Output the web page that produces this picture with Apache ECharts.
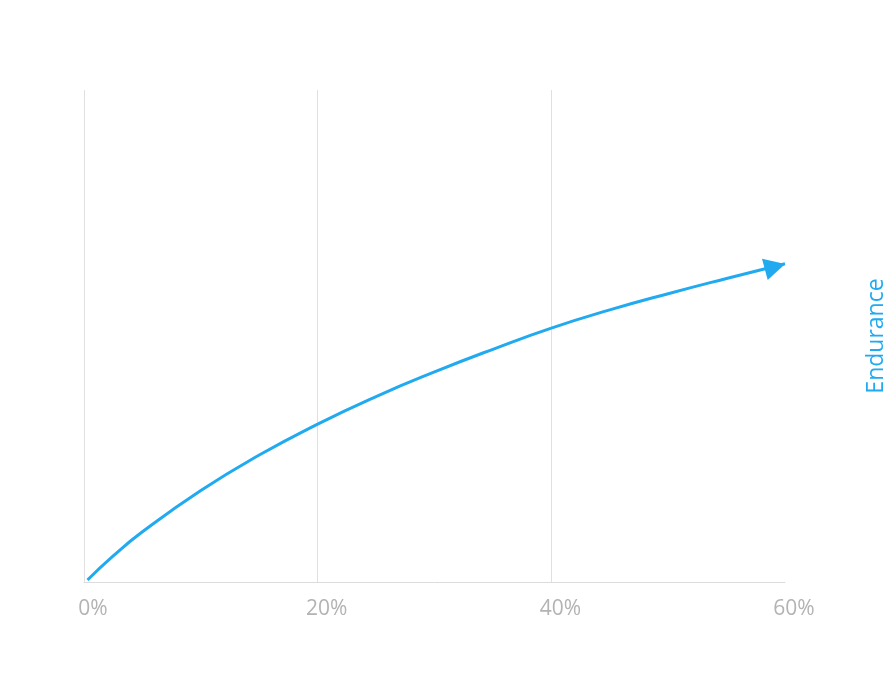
<!DOCTYPE html>
<html>
<head>
<meta charset="utf-8">
<script src="https://cdn.jsdelivr.net/npm/echarts@6/dist/echarts.min.js"></script>
<style>
html, body { margin: 0; padding: 0; background: #ffffff; overflow: hidden; }
#chart { width: 883px; height: 691px; }
</style>
</head>
<body>
<div id="chart"></div>
<script>
// share of something (x, %) vs endurance (y, relative units)
var xValues = [0.3, 2.5, 5, 10, 15, 20, 25, 30, 35, 40, 45, 50, 55, 60];
var enduranceValues = [0.4, 5.3, 10.2, 18.6, 25.8, 32.1, 37.7, 42.7, 47.3, 51.6, 55.3, 58.6, 61.7, 64.7];
var xTicks = [0, 20, 40, 60];

var lineColor = '#21aaf0';

var curve = xValues.map(function (x, i) { return [x, enduranceValues[i]]; });
var lastPoint = curve[curve.length - 1];

var myChart = echarts.init(document.getElementById('chart'));

var option = {
    backgroundColor: '#ffffff',
    animation: false,
    grid: {
        left: 84,
        right: 98,
        top: 90,
        bottom: 109,
        containLabel: false,
        outerBoundsMode: 'none'
    },
    xAxis: {
        type: 'value',
        min: xTicks[0],
        max: xTicks[xTicks.length - 1],
        interval: 20,
        axisLine: { show: true, lineStyle: { color: '#dcdcdc', width: 1 } },
        axisTick: { show: false },
        axisLabel: {
            color: '#b3b3b3',
            fontFamily: 'Open Sans',
            fontSize: 21,
            margin: 17,
            padding: [0, 0, 0, 18],
            formatter: function (v) { return v + '%'; }
        },
        splitLine: {
            show: true,
            showMinLine: true,
            showMaxLine: false,
            lineStyle: { color: '#e0e0e0', width: 1 }
        }
    },
    yAxis: {
        type: 'value',
        position: 'right',
        min: 0,
        max: 100,
        name: 'Endurance',
        nameLocation: 'middle',
        nameRotate: 90,
        nameGap: 80,
        nameTextStyle: {
            color: lineColor,
            fontFamily: 'Open Sans',
            fontSize: 23
        },
        axisLine: { show: false },
        axisTick: { show: false },
        axisLabel: { show: false },
        splitLine: { show: false }
    },
    series: [
        {
            name: 'Endurance',
            type: 'line',
            smooth: 0.5,
            showSymbol: false,
            lineStyle: { width: 3, color: lineColor },
            data: curve
        },
        {
            // arrow head at the end of the curve
            type: 'scatter',
            symbol: 'triangle',
            symbolSize: [22, 21],
            symbolRotate: -75,
            symbolOffset: [-10, 3],
            itemStyle: { color: lineColor, opacity: 1 },
            data: [lastPoint]
        }
    ]
};

myChart.setOption(option);
window.addEventListener('resize', function () {
    myChart.resize();
});
</script>
</body>
</html>
